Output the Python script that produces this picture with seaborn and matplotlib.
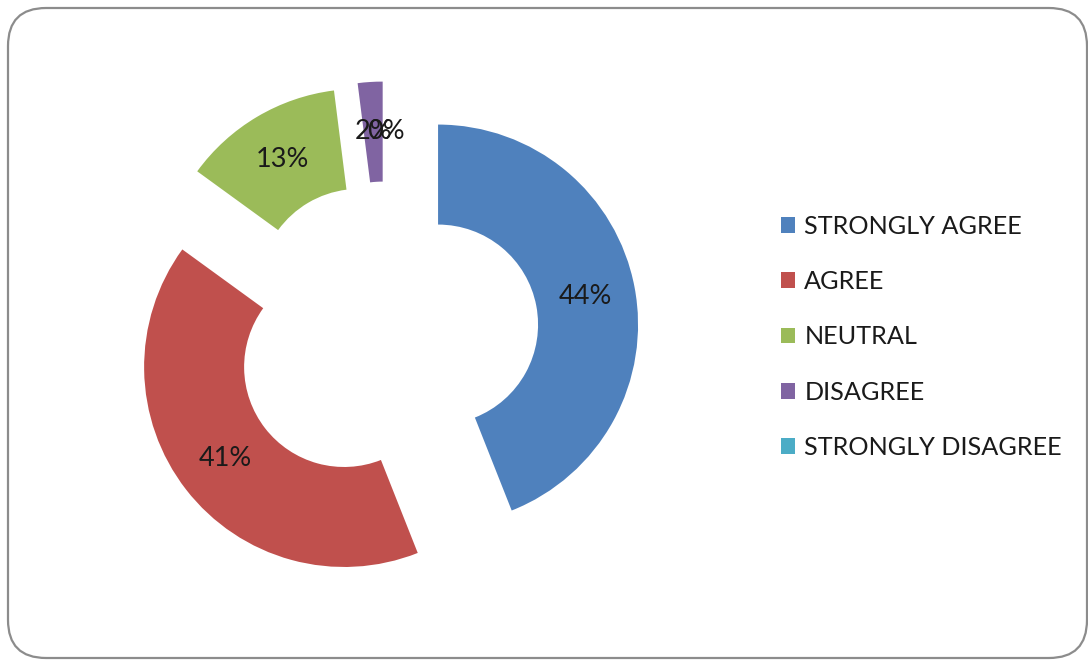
import matplotlib
matplotlib.use("Agg")
import matplotlib.pyplot as plt
import seaborn as sns
from matplotlib.patches import FancyBboxPatch, Patch

# Survey responses (percent)
categories = ["STRONGLY AGREE", "AGREE", "NEUTRAL", "DISAGREE", "STRONGLY DISAGREE"]
values = [44, 41, 13, 2, 0]
colors = ["#4F81BD", "#C0504D", "#9BBB59", "#8064A2", "#4BACC6"]

sns.set_theme(style="white")
plt.rcParams["font.family"] = ["Lato", "DejaVu Sans"]

W, H = 1088, 660
fig = plt.figure(figsize=(W / 100, H / 100), dpi=100)
fig.patch.set_facecolor("white")

# rounded frame around the chart
frame = FancyBboxPatch((8 / W, 2 / H), (1079) / W, (650) / H,
                       boxstyle="round,pad=0,rounding_size=0.035",
                       transform=fig.transFigure, facecolor="none",
                       edgecolor="#8c8c8c", linewidth=1.6, mutation_aspect=W / H)
fig.patches.append(frame)

ax = fig.add_axes([0, 0, 1, 1])
cx, cy, R = 386, 325.5, 200  # pixels, cy from bottom
wedges, texts, autotexts = ax.pie(
    values, colors=colors, startangle=90, counterclock=False,
    explode=[0.265] * len(values), autopct="%1.0f%%", pctdistance=0.75,
    wedgeprops=dict(width=0.5, linewidth=0), textprops=dict(fontsize=19.5, color="#1a1a1a"))

ax.set_xlim(-cx / R, (W - cx) / R)
ax.set_ylim(-cy / R, (H - cy) / R)
ax.set_aspect("equal")
ax.axis("off")

handles = [Patch(facecolor=c, edgecolor="none") for c in colors]
fig.legend(handles, categories, loc="center left", bbox_to_anchor=(758 / W, 1 - 337 / H),
           frameon=False, fontsize=18.2, handlelength=0.58, handleheight=0.58,
           handletextpad=0.35, labelspacing=1.28, labelcolor="#1a1a1a")

fig.savefig("out.png", dpi=100)
